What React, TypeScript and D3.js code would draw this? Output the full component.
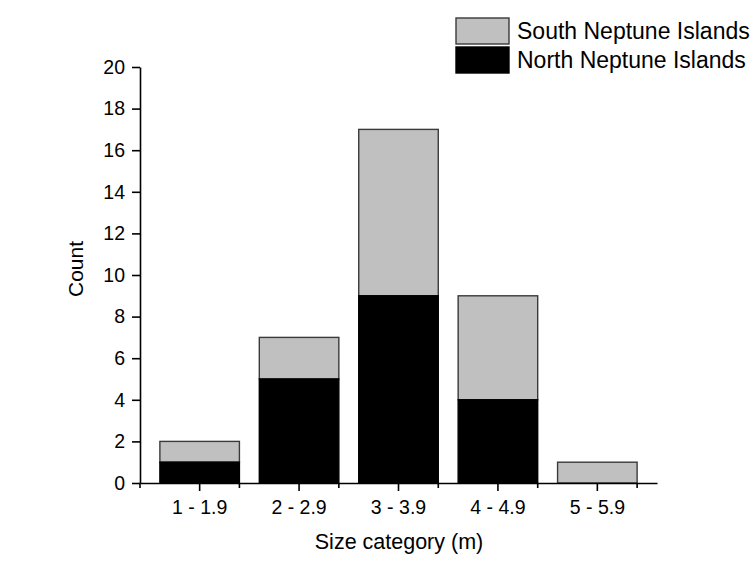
import { useEffect, useRef } from "react";
import * as d3 from "d3";

// size categories and counts per site
const categories = ["1 - 1.9", "2 - 2.9", "3 - 3.9", "4 - 4.9", "5 - 5.9"];
const northCounts = [1, 5, 9, 4, 0];
const southCounts = [1, 2, 8, 5, 1];
const yTicks = [0, 2, 4, 6, 8, 10, 12, 14, 16, 18, 20];

const W = 751;
const H = 573;
const left = 140;
const right = 657;
const top = 67;
const bottom = 483;
const FONT = "Liberation Sans, Arial, sans-serif";

export default function App() {
  const ref = useRef<SVGSVGElement>(null);

  useEffect(() => {
    document.body.style.margin = "0";
    const svg = d3.select(ref.current);
    svg.selectAll("*").remove();

    const x = d3.scaleBand().domain(categories).range([left, right]).padding(0.2);
    const y = d3.scaleLinear().domain([0, 20]).range([bottom, top]);

    svg.append("rect").attr("width", W).attr("height", H).attr("fill", "#fff");

    const rows = categories.map((c, i) => ({ c, n: northCounts[i], s: southCounts[i] }));

    // south stacked on top of north
    svg.selectAll(".south")
      .data(rows.filter((d) => d.s > 0))
      .enter()
      .append("rect")
      .attr("x", (d) => x(d.c)!)
      .attr("width", x.bandwidth())
      .attr("y", (d) => y(d.n + d.s))
      .attr("height", (d) => y(d.n) - y(d.n + d.s))
      .attr("fill", "#c0c0c0")
      .attr("stroke", "#3a3a3a")
      .attr("stroke-width", 1.4);

    svg.selectAll(".north")
      .data(rows.filter((d) => d.n > 0))
      .enter()
      .append("rect")
      .attr("x", (d) => x(d.c)!)
      .attr("width", x.bandwidth())
      .attr("y", (d) => y(d.n))
      .attr("height", (d) => y(0) - y(d.n))
      .attr("fill", "#000")
      .attr("stroke", "#000")
      .attr("stroke-width", 1.4);

    // y axis
    const yAxis = svg.append("g").attr("transform", `translate(${left},0)`)
      .call(d3.axisLeft(y).tickValues(yTicks).tickSize(8).tickPadding(7).tickSizeOuter(0));
    yAxis.select(".domain").attr("stroke-width", 1.6);
    yAxis.selectAll(".tick line").attr("stroke-width", 1.6);
    yAxis.selectAll("text").attr("font-size", 19.5).attr("font-family", FONT).attr("fill", "#000");

    // x axis
    const xAxis = svg.append("g").attr("transform", `translate(0,${bottom})`)
      .call(d3.axisBottom(x).tickSize(8).tickPadding(9).tickSizeOuter(0));
    xAxis.select(".domain").attr("stroke-width", 1.6);
    xAxis.selectAll(".tick line").attr("stroke-width", 1.6);
    xAxis.selectAll("text").attr("font-size", 19.5).attr("font-family", FONT).attr("fill", "#000");

    // minor ticks at category boundaries
    const step = x.step();
    const bounds = d3.range(categories.length + 1).map((i) => left + i * step);
    xAxis.selectAll(".minor")
      .data(bounds)
      .enter()
      .append("line")
      .attr("x1", (d) => d)
      .attr("x2", (d) => d)
      .attr("y1", 0)
      .attr("y2", 5)
      .attr("stroke", "#000")
      .attr("stroke-width", 1.6);

    // axis titles
    svg.append("text")
      .attr("transform", `translate(${83},${269}) rotate(-90)`)
      .attr("text-anchor", "middle")
      .attr("font-size", 21)
      .attr("font-family", FONT)
      .text("Count");

    svg.append("text")
      .attr("x", 399)
      .attr("y", 549)
      .attr("text-anchor", "middle")
      .attr("font-size", 21.5)
      .attr("font-family", FONT)
      .text("Size category (m)");

    // legend
    const legend = [
      { label: "South Neptune Islands", fill: "#c0c0c0", stroke: "#3a3a3a" },
      { label: "North Neptune Islands", fill: "#000", stroke: "#000" },
    ];
    const lg = svg.append("g").attr("transform", "translate(456,18)");
    legend.forEach((d, i) => {
      lg.append("rect")
        .attr("x", 0)
        .attr("y", i * 29)
        .attr("width", 53)
        .attr("height", 26)
        .attr("fill", d.fill)
        .attr("stroke", d.stroke)
        .attr("stroke-width", 1.4);
      lg.append("text")
        .attr("x", 61)
        .attr("y", i * 29 + 13)
        .attr("dy", "0.36em")
        .attr("font-size", 23)
        .attr("font-family", FONT)
        .text(d.label);
    });
  }, []);

  return <svg ref={ref} width={W} height={H} style={{ display: "block" }} />;
}
